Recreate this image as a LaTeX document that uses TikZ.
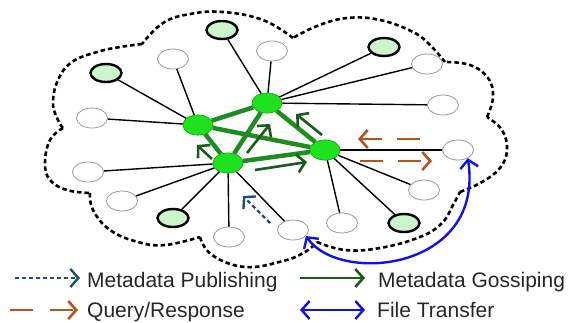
\documentclass[tikz,border=0pt]{standalone}
\usepackage{fontspec}
\setmainfont{Liberation Sans}
\usetikzlibrary{shapes.geometric,arrows.meta}
\definecolor{hubfill}{HTML}{1EE21E}
\definecolor{hubdraw}{HTML}{12B012}
\definecolor{metafill}{HTML}{CCF5CC}
\definecolor{hubedge}{HTML}{1E8C1E}
\definecolor{gossip}{HTML}{1A5A1A}
\definecolor{publish}{HTML}{1F4E79}
\definecolor{query}{HTML}{B5541C}
\definecolor{xfer}{HTML}{1010F0}
\begin{document}
\begin{tikzpicture}[x=1pt,y=-1pt,
  periph/.style={ellipse,draw=gray!80,line width=0.8pt,fill=white,minimum width=31pt,minimum height=20pt,inner sep=0pt},
  metanode/.style={ellipse,draw=black,line width=2.4pt,fill=metafill,minimum width=31pt,minimum height=18pt,inner sep=0pt},
  hub/.style={ellipse,draw=hubdraw,line width=0.6pt,fill=hubfill,minimum width=30pt,minimum height=20pt,inner sep=0pt},
  spoke/.style={draw=black,line width=1.4pt},
  hubline/.style={draw=hubedge,line width=4.5pt},
  cloudline/.style={draw=black,line width=2.6pt,dash pattern=on 4.5pt off 3pt},
  chev/.style={-{Straight Barb[length=8pt,width=18pt]}},
  gossiparrow/.style={chev,draw=gossip,line width=2.6pt},
  queryarrow/.style={chev,draw=query,line width=2.6pt,dash pattern=on 23pt off 15pt},
  pubarrow/.style={chev,draw=publish,line width=2.4pt,dash pattern=on 4pt off 3pt},
  xferarrow/.style={{Straight Barb[length=8pt,width=18pt]}-{Straight Barb[length=8pt,width=18pt]},draw=xfer,line width=2.4pt},
  legtext/.style={anchor=base west,inner sep=0pt,font=\fontsize{21}{24}\selectfont,text=black!85}
]
\useasboundingbox (0,0) rectangle (569,322);

% cloud
\draw[cloudline]
  plot[smooth,tension=0.7] coordinates {(142,44) (120,47) (97,52) (72,62) (58,80) (53,103) (58,120) (63,128)}
  plot[smooth,tension=0.7] coordinates {(63,128) (50,140) (45,163) (50,180) (67,190) (90,193)}
  plot[smooth,tension=0.7] coordinates {(90,193) (93,210) (110,230) (138,242) (165,245) (200,237)}
  plot[smooth,tension=0.7] coordinates {(200,237) (212,255) (245,267) (283,261) (305,252) (317,242)}
  plot[smooth,tension=0.7] coordinates {(317,242) (345,250) (380,248) (420,237) (442,223) (453,205) (460,192)}
  plot[smooth,tension=0.7] coordinates {(460,192) (482,182) (500,168) (507,150) (502,130) (487,117)}
  plot[smooth,tension=0.7] coordinates {(487,117) (493,97) (488,78) (470,65) (445,62)}
  plot[smooth,tension=0.7] coordinates {(445,62) (430,45) (413,32) (380,20) (347,18) (317,26) (293,38)}
  plot[smooth,tension=0.7] coordinates {(293,38) (263,20) (223,12) (190,14) (163,23) (142,44)};

% hubs
\node[hub] (A) at (198,125) {};
\node[hub] (B) at (267,103) {};
\node[hub] (C) at (228,163) {};
\node[hub] (D) at (325,150) {};

% peripheral nodes
\node[metanode] (P1) at (222,30) {};
\node[periph] (P2) at (173,59) {};
\node[periph] (P3) at (272,51) {};
\node[metanode] (P4) at (106,73) {};
\node[periph] (P5) at (92,118) {};
\node[periph] (P6) at (88,172) {};
\node[periph] (P7) at (122,201) {};
\node[metanode] (P8) at (173,218) {};
\node[periph] (P9) at (229,237) {};
\node[periph] (P10) at (293,230) {};
\node[metanode] (P11) at (384,47) {};
\node[periph] (P12) at (427,64) {};
\node[periph] (P13) at (443,105) {};
\node[periph] (P14) at (458,150) {};
\node[periph] (P15) at (424,190) {};
\node[metanode] (P16) at (404,223) {};
\node[periph] (P17) at (342,223) {};

% spokes
\draw[spoke] (B) -- (P1);
\draw[spoke] (B) -- (P3);
\draw[spoke] (B) -- (P11);
\draw[spoke] (B) -- (P12);
\draw[spoke] (B) -- (P13);
\draw[spoke] (A) -- (P2);
\draw[spoke] (A) -- (P4);
\draw[spoke] (A) -- (P5);
\draw[spoke] (C) -- (P6);
\draw[spoke] (C) -- (P7);
\draw[spoke] (C) -- (P8);
\draw[spoke] (C) -- (P9);
\draw[spoke] (C) -- (P10);
\draw[spoke] (D) -- (P14);
\draw[spoke] (D) -- (P15);
\draw[spoke] (D) -- (P16);
\draw[spoke] (D) -- (P17);

% hub mesh
\draw[hubline] (A) -- (B);
\draw[hubline] (A) -- (C);
\draw[hubline] (A) -- (D);
\draw[hubline] (B) -- (C);
\draw[hubline] (B) -- (D);
\draw[hubline] (C) -- (D);

% redraw hubs on top
\node[hub] at (A) {};
\node[hub] at (B) {};
\node[hub] at (C) {};
\node[hub] at (D) {};

% gossip arrows
\coordinate (g1s) at (212,159); \coordinate (g1e) at (197,145);
\coordinate (g2s) at (247,153); \coordinate (g2e) at (270,124);
\coordinate (g3s) at (255,170); \coordinate (g3e) at (307,162);
\coordinate (g4s) at (322,135); \coordinate (g4e) at (296,114);
\draw[gossiparrow] (g1s) -- (g1e);
\draw[gossiparrow] (g2s) -- (g2e);
\draw[gossiparrow] (g3s) -- (g3e);
\draw[gossiparrow] (g4s) -- (g4e);

% query / response
\coordinate (q1s) at (420,139); \coordinate (q1e) at (358,139);
\coordinate (q2s) at (360,161); \coordinate (q2e) at (432,161);
\draw[queryarrow] (q1s) -- (q1e);
\draw[queryarrow] (q2s) -- (q2e);

% metadata publishing
\coordinate (m1s) at (270,223); \coordinate (m1e) at (243,196);
\draw[pubarrow] (m1s) -- (m1e);

% file transfer
\draw[xferarrow] (P10.-25) .. controls (340,285) and (485,270) .. (P14.-40);

% legend
\coordinate (l1s) at (15,278); \coordinate (l1e) at (80,278);
\coordinate (l2s) at (10,310); \coordinate (l2e) at (78,310);
\coordinate (l3s) at (300,278); \coordinate (l3e) at (365,278);
\coordinate (l4s) at (300,310); \coordinate (l4e) at (365,310);
\draw[pubarrow] (l1s) -- (l1e);
\draw[chev,draw=query,line width=2.6pt,dash pattern=on 23pt off 17pt] (l2s) -- (l2e);
\draw[gossiparrow] (l3s) -- (l3e);
\draw[xferarrow] (l4s) -- (l4e);
\node[legtext] (t1) at (87,287) {Metadata Publishing};
\node[legtext] (t2) at (87,317) {Query/Response};
\node[legtext] (t3) at (378,287) {Metadata Gossiping};
\node[legtext] (t4) at (377,317) {File Transfer};
\end{tikzpicture}
\end{document}
